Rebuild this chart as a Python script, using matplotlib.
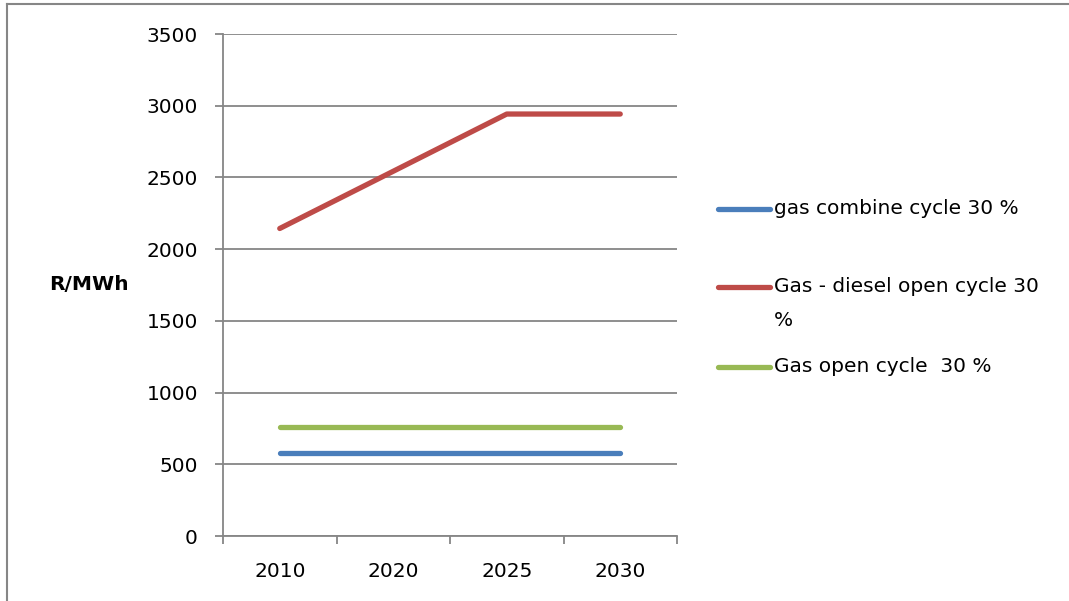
import matplotlib
matplotlib.use("Agg")
import matplotlib.pyplot as plt
from matplotlib.lines import Line2D

# Data
years = ["2010", "2020", "2025", "2030"]
series_names = [
    "gas combine cycle 30 %",
    "Gas - diesel open cycle 30\n%",
    "Gas open cycle  30 %",
]
gas_combined = [577, 577, 577, 577]
gas_diesel_open = [2144, 2543, 2942, 2942]
gas_open = [760, 760, 760, 760]
y_ticks = [0, 500, 1000, 1500, 2000, 2500, 3000, 3500]

colors = ["#4A7EBB", "#BE4B48", "#98B954"]
grey = "#868686"

plt.rcParams["font.family"] = ["DejaVu Sans"]
FS = 14.5

W, H = 1069, 601
fig = plt.figure(figsize=(W / 100, H / 100), dpi=100)
ax = fig.add_axes([223 / W, 1 - 536 / H, (677 - 223) / W, (536 - 34) / H])

x = list(range(len(years)))
for vals, c in zip([gas_combined, gas_diesel_open, gas_open], colors):
    ax.plot(x, vals, color=c, lw=3.8, solid_capstyle="round", solid_joinstyle="round", zorder=3)

ax.set_xlim(-0.5, len(years) - 0.5)
ax.set_ylim(0, 3500)
ax.set_yticks(y_ticks)
ax.set_yticklabels([str(v) for v in y_ticks])
ax.yaxis.grid(True, color=grey, lw=1.3)
ax.set_axisbelow(True)

# category boundaries carry the tick marks, labels sit at category centres
ax.set_xticks([i - 0.5 for i in range(len(years) + 1)])
ax.set_xticklabels([])
ax.set_xticks(x, minor=True)
ax.set_xticklabels(years, minor=True)
ax.tick_params(axis="x", which="major", direction="out", length=6, width=1.3, color=grey)
ax.tick_params(axis="x", which="minor", length=0, pad=19, labelsize=FS)
ax.tick_params(axis="y", direction="out", length=6, width=1.3, color=grey, pad=12, labelsize=FS)

for s in ["top", "right"]:
    ax.spines[s].set_visible(False)
for s in ["left", "bottom"]:
    ax.spines[s].set_color(grey)
    ax.spines[s].set_linewidth(1.3)

fig.text(89 / W, 1 - 285 / H, "R/MWh", ha="center", va="center", fontsize=14.5, fontweight="bold")

# legend: a short line sample followed by the series name
legend_rows = [209, 287, 367]
for name, c, yy in zip(series_names, colors, legend_rows):
    fy = 1 - yy / H
    fig.add_artist(Line2D([718 / W, 770 / W], [fy, fy], color=c, lw=3.8, solid_capstyle="round"))
    for k, part in enumerate(name.split("\n")):
        fig.text(774 / W, 1 - (yy + 34 * k) / H, part, ha="left", va="center", fontsize=FS)

# outer frame (top and left edges visible)
fig.add_artist(Line2D([7 / W, 1], [1 - 4 / H, 1 - 4 / H], color=grey, lw=1.5))
fig.add_artist(Line2D([7 / W, 7 / W], [0, 1 - 4 / H], color=grey, lw=1.5))

fig.savefig("out.png", dpi=100, facecolor="white")
